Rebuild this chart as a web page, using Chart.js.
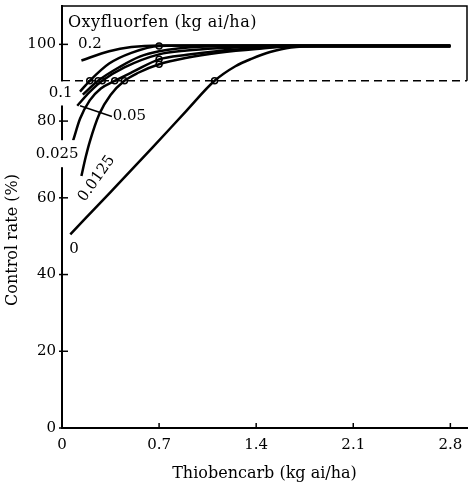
<!DOCTYPE html>
<html>
<head>
<meta charset="utf-8">
<script src="https://cdn.jsdelivr.net/npm/chart.js@4.4.0/dist/chart.umd.min.js"></script>
<style>
html, body { margin: 0; padding: 0; background: #fff; }
#caixa { width: 468px; height: 487px; }
</style>
</head>
<body>
<div id="caixa"><canvas id="grafico"></canvas></div>
<script>
// eixos
var ticksX = [0, 0.7, 1.4, 2.1, 2.8];
var ticksY = [0, 20, 40, 60, 80, 100];

// curvas por dose de oxyfluorfen
var dose02_x = [0.14, 0.34, 0.5, 0.7, 1.0, 2.8];
var dose02_y = [95.8, 98.2, 99.3, 99.7, 99.7, 99.7];

var dose01_x = [0.13, 0.2, 0.34, 0.5, 0.7, 1.0, 2.8];
var dose01_y = [87.7, 90.5, 95.0, 97.8, 99.6, 99.7, 99.7];

var dose01b_x = [0.15, 0.26, 0.42, 0.56, 0.7, 0.99, 1.3, 2.8];
var dose01b_y = [86.9, 90.5, 94.2, 96.8, 98.2, 99.4, 99.6, 99.6];

var dose005_x = [0.11, 0.2, 0.29, 0.45, 0.7, 0.9, 1.13, 1.4, 1.56, 2.8];
var dose005_y = [84.0, 87.6, 90.5, 94.0, 97.4, 98.4, 99.0, 99.4, 99.6, 99.6];

var dose0025_x = [0.08, 0.13, 0.2, 0.28, 0.38, 0.52, 0.7, 0.9, 1.13, 1.4, 1.65, 2.8];
var dose0025_y = [74.9, 80.6, 85.4, 88.5, 90.5, 93.0, 96.1, 97.3, 98.3, 99.0, 99.5, 99.5];

var dose00125_x = [0.14, 0.17, 0.2, 0.27, 0.35, 0.45, 0.55, 0.7, 0.9, 1.13, 1.4, 1.7, 2.8];
var dose00125_y = [65.7, 70.5, 74.6, 81.9, 86.8, 90.5, 92.6, 94.8, 96.5, 97.8, 98.8, 99.5, 99.5];

var dose0_x = [0.06, 0.35, 0.65, 0.9, 1.1, 1.25, 1.37, 1.5, 1.65, 1.85, 2.8];
var dose0_y = [50.5, 61.5, 73.0, 82.8, 90.5, 94.3, 96.3, 98.0, 99.2, 99.5, 99.5];

// pontos marcados (cruzamento com 90% e em 0.7)
var marca_x = [0.2, 0.26, 0.29, 0.38, 0.45, 1.1, 0.7, 0.7, 0.7];
var marca_y = [90.5, 90.5, 90.5, 90.5, 90.5, 90.5, 99.6, 96.1, 94.8];

// linha tracejada de referência
var ref_x = [0, 2.92];
var ref_y = [90.5, 90.5];

// linha-guia do rótulo 0.05
var guia_x = [0.13, 0.36];
var guia_y = [84.0, 81.2];

function pontos(xs, ys) {
    return xs.map(function (x, i) { return { x: x, y: ys[i] }; });
}

function curva(xs, ys) {
    return {
        type: 'line',
        data: pontos(xs, ys),
        borderColor: '#000',
        borderWidth: 2.5,
        pointRadius: 0,
        cubicInterpolationMode: 'monotone',
        fill: false
    };
}

var fonteSerif = '"DejaVu Serif", "Liberation Serif", serif';

// rótulos de texto, títulos e moldura
const rotulosPlugin = {
    id: 'rotulos',
    afterDatasetsDraw(chart) {
        const ctx = chart.ctx;
        const sx = chart.scales.x;
        const sy = chart.scales.y;
        const area = chart.chartArea;

        ctx.save();
        ctx.strokeStyle = '#000';
        ctx.lineWidth = 1.5;
        // moldura superior e direita
        ctx.beginPath();
        ctx.moveTo(area.left, area.top);
        ctx.lineTo(area.right, area.top);
        ctx.lineTo(area.right, sy.getPixelForValue(90.5));
        ctx.stroke();

        // marcas dos eixos
        ticksY.forEach(function (v) {
            const py = sy.getPixelForValue(v);
            ctx.beginPath();
            ctx.moveTo(area.left - 3, py);
            ctx.lineTo(area.left + 6, py);
            ctx.stroke();
        });
        ticksX.forEach(function (v) {
            const px = sx.getPixelForValue(v);
            ctx.beginPath();
            ctx.moveTo(px, area.bottom);
            ctx.lineTo(px, area.bottom - 5);
            ctx.stroke();
        });

        function texto(t, x, y, alinh, tam, fundo, ang, esp) {
            const px = sx.getPixelForValue(x);
            const py = sy.getPixelForValue(y);
            ctx.save();
            ctx.translate(px, py);
            if (ang) ctx.rotate(ang * Math.PI / 180);
            ctx.font = tam + 'px ' + fonteSerif;
            ctx.letterSpacing = esp || '0px';
            ctx.textAlign = alinh;
            ctx.textBaseline = 'middle';
            if (fundo) {
                const w = ctx.measureText(t).width;
                const x0 = alinh === 'center' ? -w / 2 : (alinh === 'right' ? -w : 0);
                ctx.fillStyle = '#fff';
                ctx.fillRect(x0 - 2, -tam * fundo / 2, w + 4, tam * fundo);
            }
            ctx.fillStyle = '#000';
            ctx.fillText(t, 0, 0);
            ctx.restore();
        }

        texto('Oxyfluorfen (kg ai/ha)', 0.043, 105.5, 'left', 16, 0, 0, '0.5px');
        texto('0.2', 0.115, 100.0, 'left', 15, 0);
        texto('0.1', -0.01, 87.2, 'center', 15, 1.6);
        texto('0.05', 0.366, 81.4, 'left', 15, 0);
        texto('0.025', -0.035, 71.5, 'center', 15, 1.8);
        texto('0.0125', 0.25, 65.0, 'center', 15, 0, -55);
        texto('0', 0.086, 46.6, 'center', 15, 0);

        // título do eixo y
        ctx.save();
        ctx.translate(13, 240);
        ctx.rotate(-Math.PI / 2);
        ctx.font = '16px ' + fonteSerif;
        ctx.textAlign = 'center';
        ctx.textBaseline = 'middle';
        ctx.fillStyle = '#000';
        ctx.fillText('Control rate (%)', 0, 0);
        ctx.restore();

        ctx.restore();
    }
};

const conjuntos = [
    curva(dose02_x, dose02_y),
    curva(dose01_x, dose01_y),
    curva(dose01b_x, dose01b_y),
    curva(dose005_x, dose005_y),
    curva(dose0025_x, dose0025_y),
    curva(dose00125_x, dose00125_y),
    curva(dose0_x, dose0_y),
    {
        type: 'line',
        data: pontos(ref_x, ref_y),
        borderColor: '#000',
        borderWidth: 1.5,
        borderDash: [8, 5],
        pointRadius: 0
    },
    {
        type: 'line',
        data: pontos(guia_x, guia_y),
        borderColor: '#000',
        borderWidth: 1.5,
        pointRadius: 0
    },
    {
        type: 'scatter',
        data: pontos(marca_x, marca_y),
        pointRadius: 3,
        pointBackgroundColor: '#fff',
        pointBorderColor: '#000',
        pointBorderWidth: 1.5
    }
];

new Chart(document.getElementById('grafico'), {
    type: 'line',
    data: { datasets: conjuntos },
    options: {
        responsive: true,
        maintainAspectRatio: false,
        animation: false,
        layout: { autoPadding: false, padding: { top: 6, right: 1, left: 0, bottom: 0 } },
        plugins: {
            legend: { display: false },
            tooltip: { enabled: false }
        },
        scales: {
            x: {
                type: 'linear',
                min: 0,
                max: 2.92,
                afterBuildTicks: function (s) { s.ticks = ticksX.map(function (v) { return { value: v }; }); },
                afterFit: function (s) { s.height = 59; s.paddingLeft = 0; s.paddingRight = 0; },
                grid: { display: false, drawTicks: false },
                border: { display: true, color: '#000', width: 2 },
                ticks: {
                    padding: 8,
                    color: '#000',
                    maxRotation: 0,
                    font: { family: fonteSerif, size: 15 },
                    callback: function (v) { return v === 0 ? '0' : v.toFixed(1); }
                },
                title: {
                    display: true,
                    text: 'Thiobencarb (kg ai/ha)',
                    color: '#000',
                    font: { family: fonteSerif, size: 16 },
                    padding: { top: 5, bottom: 4 }
                }
            },
            y: {
                type: 'linear',
                min: 0,
                max: 110,
                afterBuildTicks: function (s) { s.ticks = ticksY.map(function (v) { return { value: v }; }); },
                afterFit: function (s) { s.width = 62; s.paddingTop = 0; s.paddingBottom = 0; },
                grid: { display: false, drawTicks: false },
                border: { display: true, color: '#000', width: 2 },
                ticks: {
                    padding: 6,
                    color: '#000',
                    font: { family: fonteSerif, size: 15 }
                },
                title: { display: false }
            }
        }
    },
    plugins: [rotulosPlugin]
});
</script>
</body>
</html>
